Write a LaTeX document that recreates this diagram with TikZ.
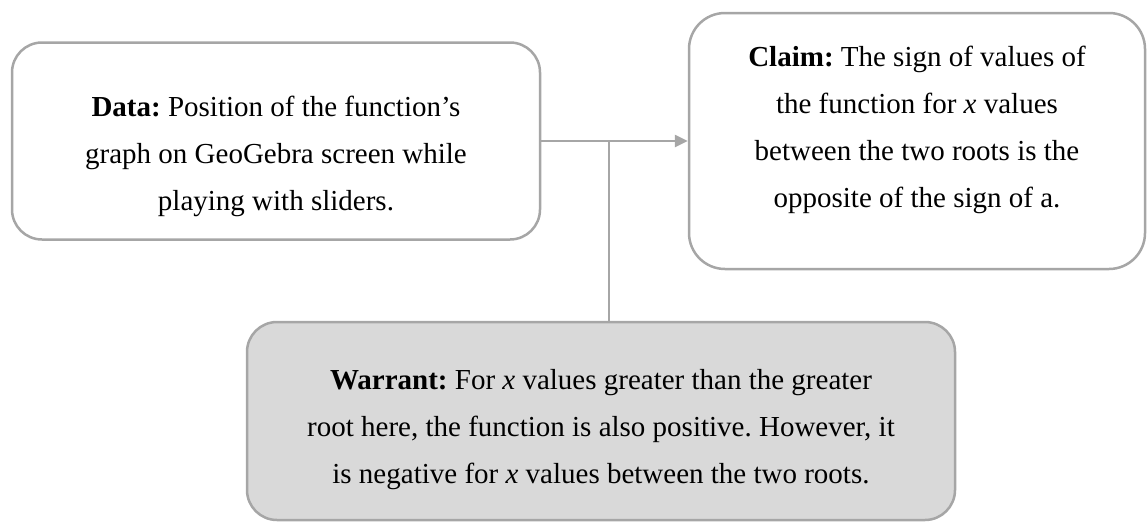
\documentclass[tikz,border=0pt]{standalone}
\usepackage{fontspec}
\setmainfont{Liberation Serif}
\usetikzlibrary{arrows.meta}
\definecolor{edgegray}{HTML}{A6A6A6}
\definecolor{warrantfill}{HTML}{D9D9D9}
\begin{document}
\begin{tikzpicture}[x=1pt,y=-1pt,
  box/.style={draw=edgegray, line width=2.5pt, fill=white, inner sep=0pt},
  txt/.style={align=center, inner sep=0pt, font=\fontsize{29}{47}\selectfont\frenchspacing},
  link/.style={draw=edgegray, line width=2.5pt}]
\useasboundingbox (0,0) rectangle (1148,522);

% Data / Claim / Warrant boxes
\node[box, rounded corners=30pt, minimum width=528pt, minimum height=197pt] (data) at (276,141) {};
\node[box, rounded corners=36pt, minimum width=456pt, minimum height=256pt] (claim) at (917,141) {};
\node[box, fill=warrantfill, rounded corners=30pt, minimum width=708pt, minimum height=198pt] (warrant) at (601,421) {};

% Texts
\node[txt] (datatext) at (276,156) {\textbf{Data:} Position of the function’s\\graph on GeoGebra screen while\\playing with sliders.};
\node[txt] (claimtext) at (917,129.5) {\textbf{Claim:} The sign of values of\\the function for \textit{x} values\\between the two roots is the\\opposite of the sign of a.};
\node[txt] (warranttext) at (601,430) {\textbf{Warrant:} For \textit{x} values greater than the greater\\root here, the function is also positive. However, it\\is negative for \textit{x} values between the two roots.};

% Connectors
\draw[link, -{Triangle[length=13pt,width=12pt]}] (data.east) -- (claim.west);
\coordinate (junction) at (609,141);
\draw[link] (junction) -- (junction |- warrant.north);
\end{tikzpicture}
\end{document}
